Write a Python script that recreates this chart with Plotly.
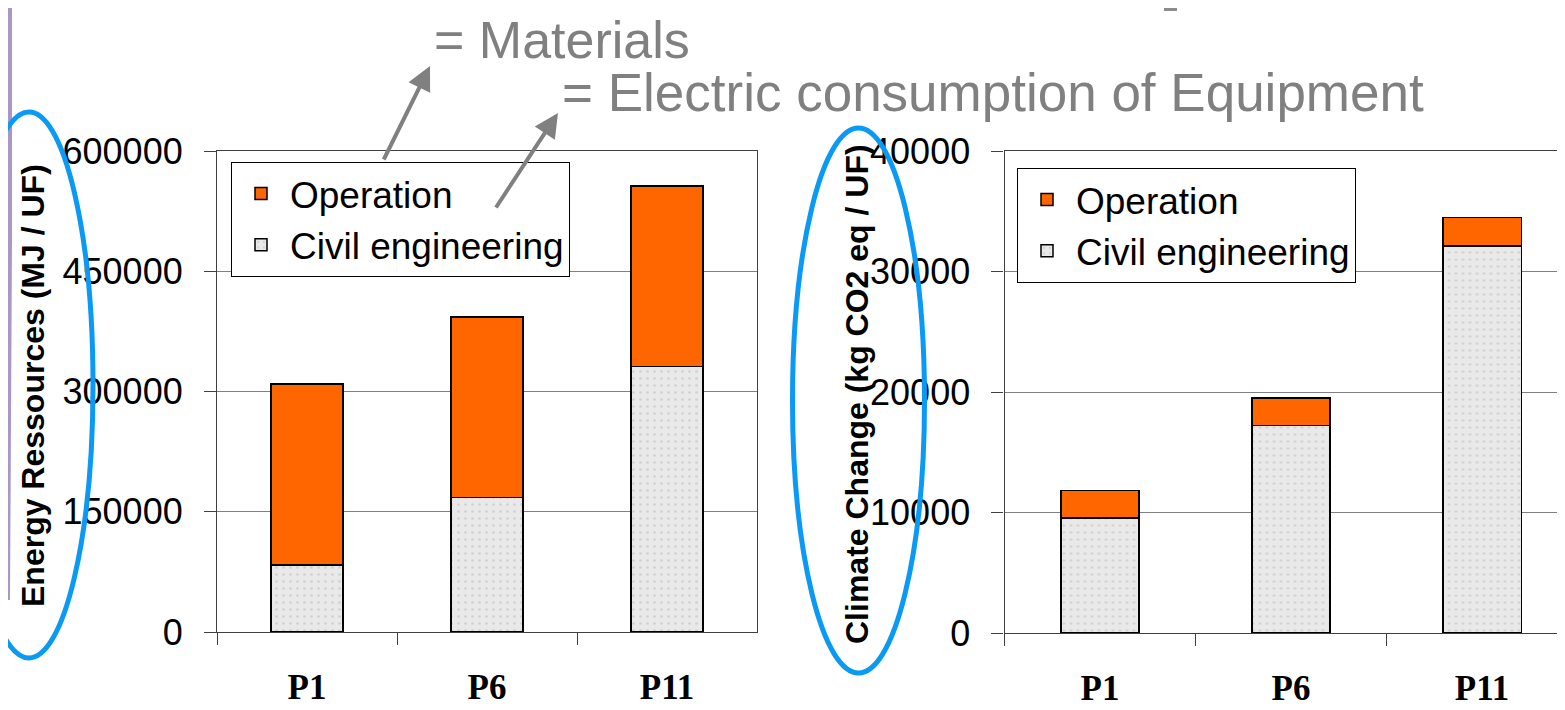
import plotly.graph_objects as go

categories = ["P1", "P6", "P11"]

energy_civil = [83500, 167500, 331000]
energy_operation = [225700, 225700, 225500]

climate_civil = [9530, 17230, 32100]
climate_operation = [2300, 2270, 2390]

energy_ticks = [0, 150000, 300000, 450000, 600000]
climate_ticks = [0, 10000, 20000, 30000, 40000]

# The page body has an 8px margin: the figure is sized so that it ends at the window edge.
OFF = 8
W, H = 1565 - OFF, 710 - OFF
ORANGE = "#FF6600"
CIVIL_BG = "#e9e9e9"
GRID = "#808080"


def px(x):
    return (x - OFF) / W


def py(y):
    return 1 - (y - OFF) / H


fig = go.Figure()

civil_pattern = dict(shape=".", fgcolor="#b8b8b8", bgcolor=CIVIL_BG, size=7, solidity=0.12)

# left chart
fig.add_trace(go.Bar(x=categories, y=energy_civil, name="Civil engineering", xaxis="x", yaxis="y",
                     marker=dict(color=CIVIL_BG, pattern=civil_pattern, line=dict(color="black", width=1.5)),
                     width=0.4, legend="legend", legendrank=2))
fig.add_trace(go.Bar(x=categories, y=energy_operation, name="Operation", xaxis="x", yaxis="y",
                     marker=dict(color=ORANGE, line=dict(color="black", width=1.5)),
                     width=0.4, legend="legend", legendrank=1))
# right chart
fig.add_trace(go.Bar(x=categories, y=climate_civil, name="Civil engineering", xaxis="x2", yaxis="y2",
                     marker=dict(color=CIVIL_BG, pattern=civil_pattern, line=dict(color="black", width=1.5)),
                     width=0.41, legend="legend2", legendrank=2))
fig.add_trace(go.Bar(x=categories, y=climate_operation, name="Operation", xaxis="x2", yaxis="y2",
                     marker=dict(color=ORANGE, line=dict(color="black", width=1.5)),
                     width=0.41, legend="legend2", legendrank=1))

xcommon = dict(type="category", categoryorder="array", categoryarray=categories,
               showline=True, linecolor="#404040", linewidth=1.2,
               ticks="outside", tickson="boundaries", ticklen=12, tickcolor="#404040",
               tickfont=dict(family="Liberation Serif", size=35, color="black", weight="bold"),
               ticklabelstandoff=24, showgrid=False, zeroline=False, automargin=False)
ycommon = dict(showline=True, linecolor="#404040", linewidth=1.2,
               ticks="outside", ticklen=12, tickcolor="#404040",
               tickfont=dict(family="Liberation Sans", size=36, color="black"),
               ticklabelstandoff=14, showgrid=True, gridcolor=GRID, gridwidth=1,
               zeroline=False, tickformat="d", automargin=False)

legend_common = dict(xanchor="left", yanchor="top", bgcolor="white", bordercolor="black",
                     borderwidth=1, font=dict(family="Liberation Sans", size=37, color="black"),
                     itemwidth=48, traceorder="normal")

fig.update_layout(
    template="plotly",
    width=W, height=H,
    margin=dict(l=0, r=0, t=0, b=0, autoexpand=False),
    paper_bgcolor="white", plot_bgcolor="white",
    barmode="stack",
    xaxis=dict(domain=[px(217), px(757)], range=[-0.5, 2.5], anchor="y", mirror=True, **xcommon),
    yaxis=dict(domain=[py(632), py(151)], range=[0, 600000], tickvals=energy_ticks,
               anchor="x", mirror=True, **ycommon),
    xaxis2=dict(domain=[px(1004.5), 1.0], range=[-0.5, 2.434], anchor="y2", mirror=True, **xcommon),
    yaxis2=dict(domain=[py(633), py(151)], range=[0, 40000], tickvals=climate_ticks,
                anchor="x2", **ycommon),
    legend=dict(x=px(231), y=py(162), **legend_common),
    legend2=dict(x=px(1017), y=py(168), **legend_common),
    showlegend=True,
)

annotations = [
    dict(text="<b>Energy Ressources (MJ / UF)</b>", x=px(33), y=py(386), xref="paper", yref="paper",
         textangle=-90, showarrow=False, xanchor="center", yanchor="middle",
         font=dict(family="Liberation Sans", size=32, color="black")),
    dict(text="<b>Climate Change (kg CO2 eq / UF)</b>", x=px(857), y=py(394), xref="paper", yref="paper",
         textangle=-90, showarrow=False, xanchor="center", yanchor="middle",
         font=dict(family="Liberation Sans", size=32, color="black")),
    dict(text="= Materials", x=px(432), y=py(9), xref="paper", yref="paper",
         showarrow=False, xanchor="left", yanchor="top",
         font=dict(family="Liberation Sans", size=52, color="#808080")),
    dict(text="= Electric consumption of Equipment", x=px(560), y=py(92), xref="paper", yref="paper",
         showarrow=False, xanchor="left", yanchor="middle",
         font=dict(family="Liberation Sans", size=53, color="#808080")),
    dict(text="", x=px(430), y=py(66), xref="paper", yref="paper", ax=-47, ay=95,
         showarrow=True, arrowhead=2, arrowsize=1.2, arrowwidth=4, arrowcolor="#808080"),
    dict(text="", x=px(558), y=py(113), xref="paper", yref="paper", ax=-63, ay=96,
         showarrow=True, arrowhead=2, arrowsize=1.2, arrowwidth=4, arrowcolor="#808080"),
]
fig.update_layout(annotations=annotations)

shapes = [
    dict(type="path", xref="paper", yref="paper", layer="below",
         path=f"M {px(0)},{py(0)} L {px(12)},{py(0)} L {px(12)},{py(240)} L {px(10)},{py(600)} L {px(0)},{py(600)} Z",
         fillcolor="#A898C8", line=dict(width=0)),
    dict(type="rect", xref="paper", yref="paper", x0=px(1164), x1=px(1177), y0=py(11), y1=py(0),
         fillcolor="#8c8c8c", line=dict(width=0)),
    dict(type="circle", xref="paper", yref="paper", layer="above",
         x0=px(29 - 64), x1=px(29 + 64), y0=py(658), y1=py(112),
         line=dict(color="#0A9AF5", width=5)),
    dict(type="circle", xref="paper", yref="paper", layer="above",
         x0=px(858.5 - 66), x1=px(858.5 + 66), y0=py(673), y1=py(128),
         line=dict(color="#0A9AF5", width=5)),
]
fig.update_layout(shapes=shapes)

fig.write_html("out.html")
